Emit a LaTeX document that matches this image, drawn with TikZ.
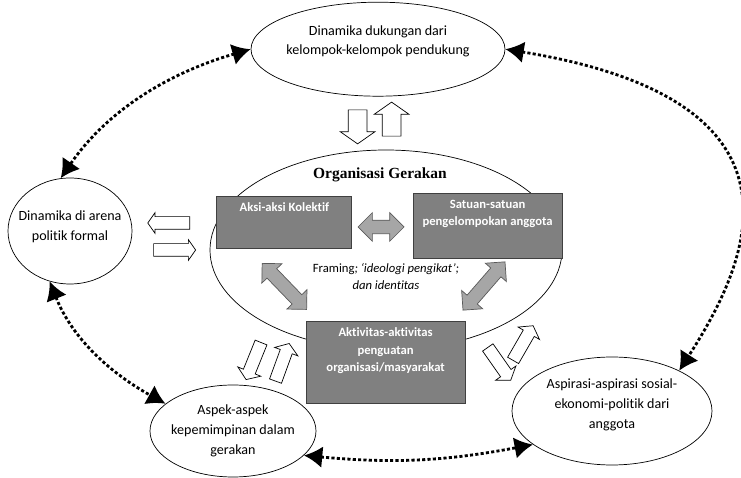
\documentclass[tikz,border=0pt]{standalone}
\usepackage{fontspec}
\setmainfont{Carlito}[Ligatures={TeX,NoCommon}]
\newfontfamily\titleserif{Liberation Serif}
\usetikzlibrary{positioning,shapes.geometric,shapes.arrows,arrows.meta}

\tikzset{
  oval/.style={ellipse,draw,line width=.5pt,inner sep=0pt},
  ovaltext/.style={align=center,inner sep=0pt,font=\fontsize{10}{14}\selectfont},
  greybox/.style={draw=black!75,fill=black!50,line width=.6pt,inner sep=0pt},
  boxtext/.style={align=center,inner sep=0pt,text=white,font=\bfseries\fontsize{9}{12.5}\selectfont},
  openarrow/.style={single arrow,draw,fill=white,line width=.5pt,inner xsep=0pt,single arrow tip angle=110},
  toparrow/.style={openarrow,minimum height=8.5mm,inner ysep=2.25mm,single arrow head extend=2mm},
  sidearrow/.style={openarrow,minimum height=10.5mm,inner ysep=1.5mm,single arrow head extend=1mm},
  tiltarrow/.style={openarrow,minimum height=10mm,inner ysep=1.5mm,single arrow head extend=1.5mm},
  greyarrow/.style={double arrow,draw=black!65,fill=black!35,line width=.5pt,inner xsep=0pt,inner ysep=1.6mm},
  link/.style={line width=2pt,dash pattern=on 2.2pt off 1.6pt,{Latex[length=4.6mm,width=5.4mm]}-{Latex[length=4.6mm,width=5.4mm]}}
}

\begin{document}
\begin{tikzpicture}[x=1cm,y=1cm,line width=.5pt]
\useasboundingbox (0,0) rectangle (18.525,11.95);
% ovals
\node[oval,minimum width=6.35cm,minimum height=2.35cm,label={[ovaltext,yshift=2mm]center:Dinamika dukungan dari\\kelompok-kelompok pendukung}] (dukungan) at (9.45,10.72) {};
\node[oval,minimum width=3.1cm,minimum height=2.65cm,label={[ovaltext,yshift=1mm]center:Dinamika di arena\\politik formal}] (arena) at (1.75,6.175) {};
\node[oval,minimum width=8.8cm,minimum height=5cm] (org) at (9.65,5.7) {};
\node[oval,minimum width=4.15cm,minimum height=2.3cm,label={[ovaltext]center:Aspek-aspek\\kepemimpinan dalam\\gerakan}] (aspek) at (5.825,1.175) {};
\node[oval,minimum width=5cm,minimum height=2.7cm,label={[ovaltext,yshift=1.5mm]center:Aspirasi-aspirasi sosial-\\ekonomi-politik dari\\anggota}] (aspirasi) at (15.3,1.675) {};
\node[font=\titleserif\bfseries\fontsize{11}{13}\selectfont] (judul) at (9.5,7.575) {Organisasi Gerakan};
% grey boxes
\node[greybox,minimum width=3.375cm,minimum height=1.3cm] (aksi) at (7.11,6.38) {};
\node[boxtext,below=1.5mm of aksi.north] (aksitext) {Aksi-aksi Kolektif};
\node[greybox,minimum width=3.725cm,minimum height=1.625cm] (satuan) at (12.19,6.31) {};
\node[boxtext,below=1.7mm of satuan.north] (satuantext) {Satuan-satuan\\pengelompokan anggota};
\node[greybox,minimum width=3.975cm,minimum height=2.05cm] (aktivitas) at (9.64,2.9) {};
\node[boxtext,below=1.7mm of aktivitas.north] (aktivitastext) {Aktivitas-aktivitas\\penguatan\\organisasi/masyarakat};
\node[align=center,inner sep=0pt,font=\fontsize{9}{12.5}\selectfont] (framing) at (9.65,5.04) {Framing\textit{; ‘ideologi pengikat’;}\\\textit{dan identitas}};
% grey double arrows
\node[greyarrow,minimum height=11.5mm,double arrow head extend=1.9mm] (aksisatuan) at (9.525,6.275) {};
\node[greyarrow,minimum height=16mm,double arrow head extend=1.8mm,rotate=-46] (aksiaktiv) at (7.11,4.79) {};
\node[greyarrow,minimum height=16mm,double arrow head extend=1.8mm,rotate=49] (satuanaktiv) at (12.1,4.8) {};
% open arrows
\node[toparrow,rotate=-90] (turun) at (8.94,8.86) {};
\node[toparrow,rotate=90] (naik) at (9.79,8.89) {};
\node[sidearrow,rotate=180] (kiri) at (4.275,6.375) {};
\node[sidearrow] (kanan) at (4.31,5.7) {};
\node[tiltarrow,rotate=248] (aspekturun) at (6.36,2.975) {};
\node[tiltarrow,rotate=70] (aspeknaik) at (7.04,2.84) {};
\node[tiltarrow,rotate=-55] (aspirasiturun) at (12.45,2.9) {};
\node[tiltarrow,rotate=60] (aspirasinaik) at (13.05,3.325) {};
% dotted links
\draw[link] (dukungan.west) .. controls (4.125,10.1) and (2.64,9.13) .. (arena.100);
\draw[link] (dukungan.east) .. controls (20.75,9.4) and (18.6,5.2) .. (aspirasi.31);
\draw[link] (arena.248) .. controls (1.825,3.45) and (2.8,2.6) .. (aspek.158);
\draw[link] (aspek.-19) to[bend right=8] (aspirasi.203);
\end{tikzpicture}
\end{document}
